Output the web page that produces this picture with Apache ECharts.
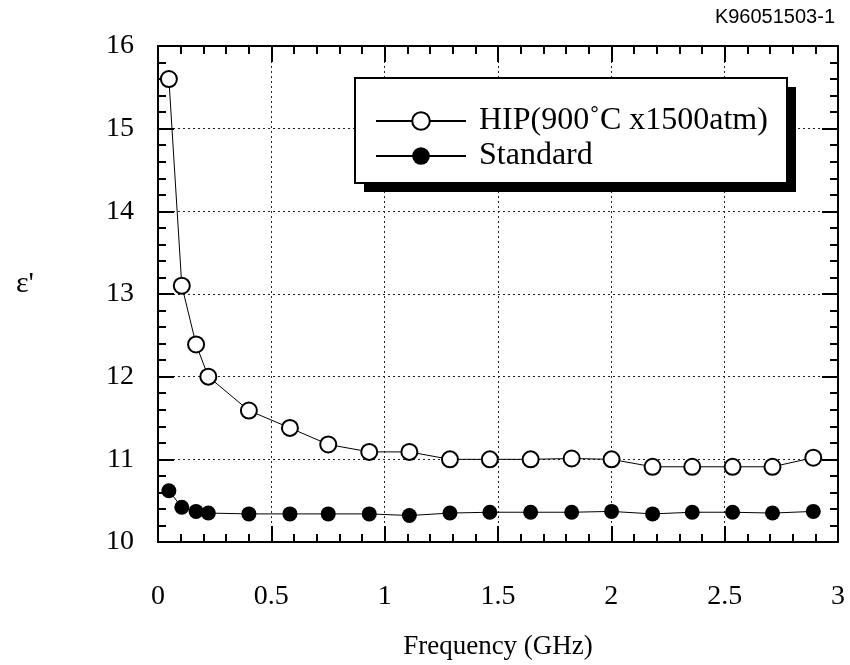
<!DOCTYPE html>
<html>
<head>
<meta charset="utf-8">
<script src="https://cdn.jsdelivr.net/npm/echarts@6/dist/echarts.min.js"></script>
<style>
html,body{margin:0;padding:0;background:#fff;}
#chart{width:850px;height:665px;}
</style>
</head>
<body>
<div id="chart"></div>
<script>
const frequency = [0.048, 0.105, 0.168, 0.222, 0.401, 0.582, 0.751, 0.932, 1.109, 1.288, 1.464, 1.644, 1.825, 2.001, 2.182, 2.357, 2.535, 2.711, 2.891];
const hipValues = [15.6, 13.1, 12.39, 12.0, 11.59, 11.38, 11.18, 11.09, 11.09, 11.0, 11.0, 11.0, 11.01, 11.0, 10.91, 10.91, 10.91, 10.91, 11.02];
const standardValues = [10.62, 10.42, 10.37, 10.35, 10.34, 10.34, 10.34, 10.34, 10.32, 10.35, 10.36, 10.36, 10.36, 10.37, 10.34, 10.36, 10.36, 10.35, 10.37];
const seriesNames = ['HIP(900\u02daC x1500atm)', 'Standard'];
const xTitle = 'Frequency (GHz)';
const yTitle = '\u03b5\'';
const chartId = 'K96051503-1';

const serif = 'Liberation Serif';
const hipData = frequency.map((f, i) => [f, hipValues[i]]);
const stdData = frequency.map((f, i) => [f, standardValues[i]]);

const tickCommon = {
  axisLine: {show: true, onZero: false, lineStyle: {color: '#000', width: 2}},
  axisTick: {show: true, inside: true, length: 16, lineStyle: {color: '#000', width: 2}},
  minorTick: {show: true, splitNumber: 5, length: 8, lineStyle: {color: '#000', width: 2}}
};

const legendBox = {x: 355, y: 78, w: 432, h: 105, shadow: 9};

const chart = echarts.init(document.getElementById('chart'), null, {renderer: 'canvas'});
chart.setOption({
  backgroundColor: '#fff',
  animation: false,
  title: {
    text: chartId, right: 10, top: 2,
    textStyle: {fontFamily: 'Liberation Sans', fontWeight: 'normal', fontSize: 20, color: '#000'}
  },
  grid: {left: 158, right: 12, top: 46, bottom: 120},
  graphic: [
    {type: 'rect', z: 1, silent: true,
     shape: {x: legendBox.x + legendBox.shadow, y: legendBox.y + legendBox.shadow, width: legendBox.w, height: legendBox.h},
     style: {fill: '#000'}},
    {type: 'rect', z: 1, silent: true,
     shape: {x: legendBox.x, y: legendBox.y, width: legendBox.w, height: legendBox.h},
     style: {fill: '#fff', stroke: '#000', lineWidth: 2}}
  ],
  legend: {
    left: 355, top: 78, orient: 'vertical',
    padding: [27, 17, 15, 20], itemGap: 3,
    itemWidth: 90, itemHeight: 22,
    textStyle: {fontFamily: serif, fontSize: 32, color: '#000', lineHeight: 30, padding: [0, 0, 0, 8]},
    data: seriesNames
  },
  xAxis: [
    Object.assign({
      type: 'value', position: 'bottom', min: 0, max: 3, interval: 0.5,
      name: xTitle, nameLocation: 'middle', nameGap: 91,
      nameTextStyle: {fontFamily: serif, fontSize: 27, color: '#000'},
      axisLabel: {fontFamily: serif, fontSize: 28, color: '#000', margin: 41},
      splitLine: {show: true, lineStyle: {color: '#222', width: 1, type: [2, 3]}}
    }, tickCommon),
    Object.assign({
      type: 'value', position: 'top', min: 0, max: 3, interval: 0.5,
      axisLabel: {show: false}, splitLine: {show: false}
    }, tickCommon)
  ],
  yAxis: [
    Object.assign({
      type: 'value', position: 'left', min: 10, max: 16, interval: 1,
      name: yTitle, nameLocation: 'middle', nameRotate: 0, nameGap: 124,
      nameTextStyle: {fontFamily: serif, fontSize: 30, color: '#000', verticalAlign: 'bottom', lineHeight: 20},
      axisLabel: {fontFamily: serif, fontSize: 28, color: '#000', margin: 24},
      splitLine: {show: true, lineStyle: {color: '#222', width: 1, type: [2, 3]}}
    }, tickCommon),
    Object.assign({
      type: 'value', position: 'right', min: 10, max: 16, interval: 1,
      axisLabel: {show: false}, splitLine: {show: false}
    }, tickCommon)
  ],
  series: [
    {
      name: seriesNames[0], type: 'line', xAxisIndex: 0, yAxisIndex: 0,
      data: hipData, symbol: 'emptyCircle', symbolSize: 16,
      lineStyle: {color: '#000', width: 1},
      itemStyle: {color: '#000', borderWidth: 1.3},
      z: 3
    },
    {
      name: seriesNames[1], type: 'line', xAxisIndex: 0, yAxisIndex: 0,
      data: stdData, symbol: 'circle', symbolSize: 15,
      lineStyle: {color: '#000', width: 1},
      itemStyle: {color: '#000'},
      z: 3
    }
  ]
});
</script>
</body>
</html>
